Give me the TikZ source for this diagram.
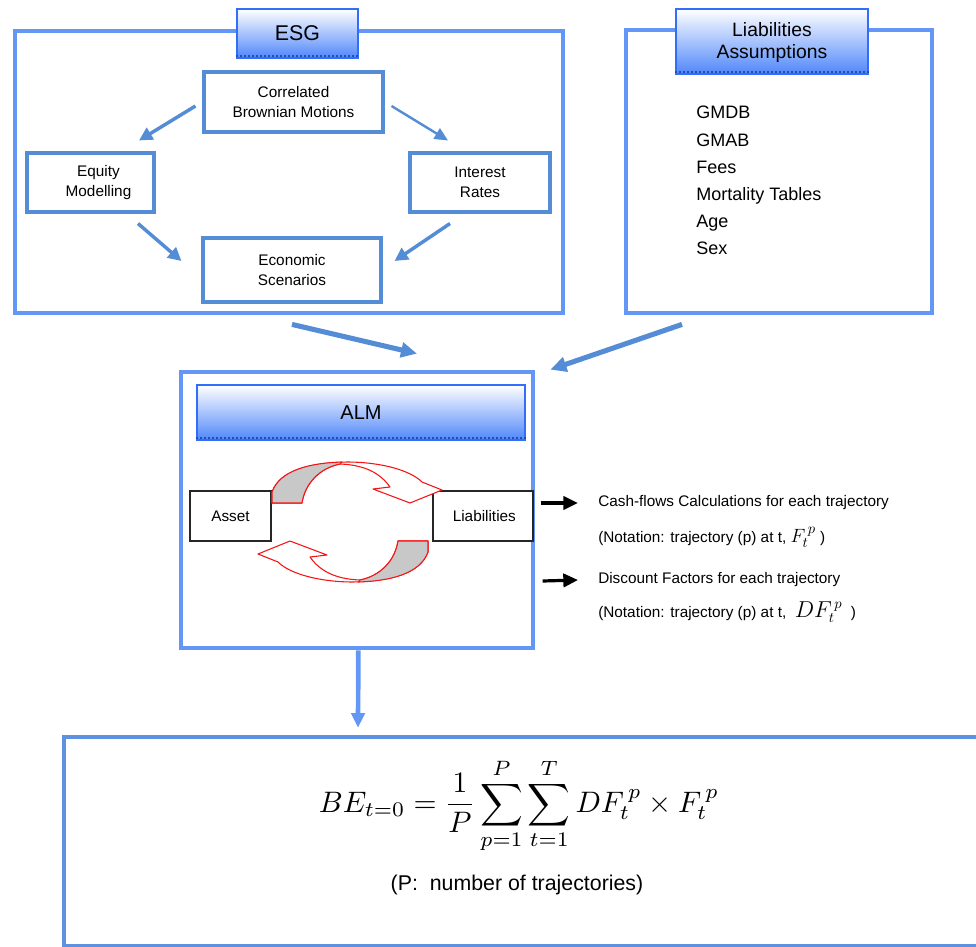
\documentclass[tikz,border=0pt]{standalone}
\usepackage{fontspec}
\setmainfont{Liberation Sans}
\usetikzlibrary{arrows.meta,fit}

\definecolor{framecol}{RGB}{100,150,245}
\definecolor{boxcol}{RGB}{84,140,214}
\definecolor{arrcol}{RGB}{84,140,214}
\definecolor{ttledge}{RGB}{50,110,250}
\definecolor{ttlblue}{RGB}{80,135,250}
\definecolor{cycred}{RGB}{245,20,20}
\definecolor{cycgray}{RGB}{200,200,200}
\definecolor{bebox}{RGB}{95,145,225}

\tikzset{
  frame/.style={draw=framecol, line width=3.6pt, inner sep=0pt},
  ttl/.style={draw=ttledge, line width=0.9pt, top color=white, bottom color=ttlblue,
    inner sep=0pt, align=center, font=\fontsize{15}{16.5}\selectfont},
  esgbox/.style={draw=boxcol, line width=2.3pt, inner sep=0pt, align=center,
    font=\fontsize{11.5}{15}\selectfont},
  plainbox/.style={draw=black!85, line width=1pt, fill=white, inner sep=0pt,
    font=\fontsize{11.5}{14}\selectfont},
  flow/.style={draw=arrcol, line width=2.6pt, -{Triangle[length=10pt,width=10pt]}},
  thinflow/.style={draw=arrcol, line width=1.8pt, -{Triangle[length=10pt,width=9pt]}},
  bigflow/.style={draw=arrcol, line width=3.8pt, -{Triangle[length=12pt,width=11pt]}},
  downflow/.style={draw=framecol, line width=3.5pt, -{Triangle[length=11pt,width=10pt]}},
  blackflow/.style={draw=black, line width=2.4pt, -{Triangle[length=11pt,width=10pt]}},
  cycline/.style={draw=cycred, line width=0.8pt, line join=round},
  lbl/.style={inner sep=0pt, anchor=west, font=\fontsize{11.5}{14}\selectfont},
  shadowline/.style={draw=ttledge!70!black, dotted, line width=1pt},
  cyc/.pic={
    % white ribbon with head
    \path[cycline, fill=white]
      (-78,-20) -- (-78,-31) .. controls (-70,-53) and (-40,-60) .. (-3,-61)
      .. controls (30,-61) and (60,-53) .. (72,-41) -- (92,-33) -- (60,-20)
      -- (23,-34) -- (40,-36) .. controls (30,-50) and (15,-58) .. (-10,-59)
      .. controls (-30,-55) and (-45,-40) .. (-48,-20) -- cycle;
    % shaded inner face
    \path[cycline, fill=cycgray]
      (-78,-20) -- (-78,-31) .. controls (-70,-53) and (-40,-60) .. (-8,-61)
      -- (-10,-59) .. controls (-30,-55) and (-45,-40) .. (-48,-20) -- cycle;
  }
}

\begin{document}
\begin{tikzpicture}[x=0.75pt,y=-0.75pt]
\useasboundingbox (0,0) rectangle (976,947);

% ---------------- ESG block ----------------
\node[frame, fit={(15,31)(563,313)}] (esgframe) {};
\node[ttl, font=\fontsize{16}{18}\selectfont, fit={(237,9)(358,58)}] (esgttl) {};
\node at (esgttl.center) {\fontsize{16}{18}\selectfont ESG};
\draw[shadowline] ([yshift=2]esgttl.south west) -- ([yshift=2]esgttl.south east);

\node[esgbox, fit={(204,72)(383,132)}] (cbm) {};
\node[align=center, font=\fontsize{11.5}{14.5}\selectfont] at (cbm.center) {Correlated\\Brownian Motions};
\node[esgbox, fit={(27,153)(154,212)}] (eq) {};
\node[align=center, font=\fontsize{11.5}{15}\selectfont] at ([xshift=6]eq.center) {Equity\\Modelling};
\node[esgbox, fit={(410,153)(550,212)}] (ir) {};
\node[align=center, font=\fontsize{11.5}{15}\selectfont] at (ir.center) {Interest\\Rates};
\node[esgbox, fit={(203,238)(381,302)}] (econ) {};
\node[align=center, font=\fontsize{11.5}{15.5}\selectfont] at (econ.center) {Economic\\Scenarios};

\draw[flow] ([shift={(-7,4)}]cbm.west) -- ([shift={(48.5,-11)}]eq.north);
\draw[thinflow] ([shift={(7,4)}]cbm.east) -- ([shift={(-32,-11)}]ir.north);
\draw[flow] ([shift={(47.5,10)}]eq.south) -- ([shift={(-20,-9)}]econ.west);
\draw[flow] ([shift={(-30,10)}]ir.south) -- ([shift={(12,-9)}]econ.east);

% ---------------- Liabilities assumptions block ----------------
\node[frame, fit={(626,30)(932,313)}] (liabframe) {};
\node[ttl, fit={(676,9)(868,74)}] (liabttl) {};
\node[align=center, font=\fontsize{14.5}{16.5}\selectfont] at ([yshift=-1]liabttl.center) {Liabilities\\Assumptions};
\draw[shadowline] ([yshift=2]liabttl.south west) -- ([yshift=2]liabttl.south east);
\node[inner sep=0pt, anchor=north west, align=left, font=\fontsize{13.5}{20.4}\selectfont]
  (liablist) at (696,106) {GMDB\\GMAB\\Fees\\Mortality Tables\\Age\\Sex};

% ---------------- ALM block ----------------
\node[frame, fit={(181,372)(533,648)}] (almframe) {};
\node[ttl, fit={(197,385)(525,440)}] (almttl) {};
\node at (almttl.center) {\fontsize{15}{17}\selectfont ALM};
\draw[shadowline] ([yshift=2]almttl.south west) -- ([yshift=2]almttl.south east);

\draw[bigflow] ([shift={(3,9)}]esgframe.south) -- ([shift={(60,-16)}]almframe.north);
\draw[bigflow] ([shift={(-97,9)}]liabframe.south) -- ([shift={(15,0)}]almframe.north east);

\node[plainbox, fit={(190,491)(271,541)}] (asset) {};
\node[font=\fontsize{11.5}{14}\selectfont] at (asset.center) {Asset};
\node[plainbox, fit={(433,491)(533,541)}] (liab) {};
\node[font=\fontsize{11.5}{14}\selectfont] at ([xshift=1]liab.center) {Liabilities};

% cycle between assets and liabilities
\pic at (350,523) {cyc};
\pic[rotate=180] at (350,521) {cyc};

% ---------------- outputs ----------------
\node[lbl] (cf) at (598,503) {Cash-flows Calculations for each trajectory};
\node[lbl] (cfnote) at (598,537) {(Notation: trajectory (p) at t, \fontsize{15}{15}\selectfont$F_t^{\,p}$\fontsize{11.5}{14}\selectfont\ )};
\node[lbl] (df) at (598,580) {Discount Factors for each trajectory};
\node[lbl] (dfnote) at (598,612) {(Notation: trajectory (p) at t, \ \fontsize{16}{16}\selectfont$DF_t^{\,p}$\fontsize{11.5}{14}\selectfont\ \ )};
\draw[blackflow] ([shift={(7,-13)}]liab.east) -- ([xshift=-15]cf.west);
\draw[blackflow] ([shift={(9,65)}]liab.east) -- ([xshift=-15]df.west);

% ---------------- best estimate ----------------
\draw[draw=bebox, line width=2.4pt] (990,737) -- (64,737) -- (64,946) -- (990,946);
\node[inner sep=0pt, minimum width=0pt, fit={(64,737)(990,946)}] (bebox) {};
\draw[downflow] ([xshift=1]almframe.south) -- ([shift={(-169,-9)}]bebox.north);

\node[inner sep=0pt] (formula) at (519,806)
  {\resizebox{300pt}{!}{$\displaystyle BE_{t=0}=\frac{1}{P}\sum_{p=1}^{P}\sum_{t=1}^{T}DF_t^{\,p}\times F_t^{\,p}$}};
\node[inner sep=0pt, font=\fontsize{16}{18}\selectfont] (pnote) at (517,885) {(P:\ \ number of trajectories)};

\end{tikzpicture}
\end{document}
